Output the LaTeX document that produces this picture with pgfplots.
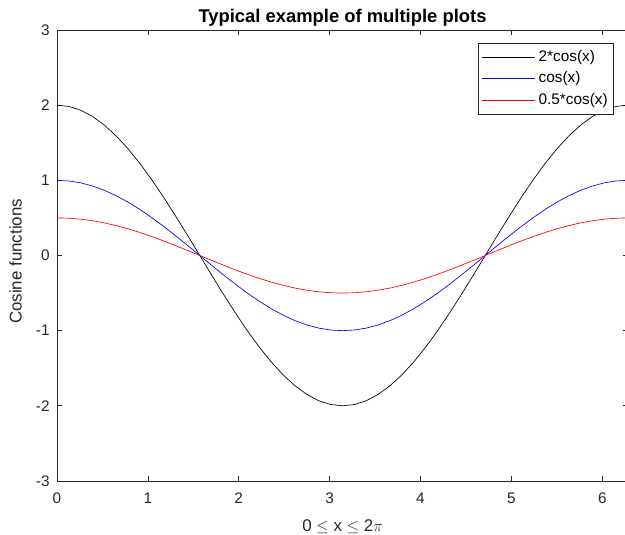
\documentclass[border=0pt]{standalone}
\usepackage{fontspec}
\setmainfont{Liberation Sans}
\usepackage{pgfplots}
\pgfplotsset{compat=1.18}

\pgfplotstableread{
x       a         b         c
0.0000  2.00000   1.00000   0.50000
0.1309  1.98289   0.99144   0.49572
0.2618  1.93185   0.96593   0.48296
0.3927  1.84776   0.92388   0.46194
0.5236  1.73205   0.86603   0.43301
0.6545  1.58671   0.79335   0.39668
0.7854  1.41421   0.70711   0.35355
0.9163  1.21752   0.60876   0.30438
1.0472  1.00000   0.50000   0.25000
1.1781  0.76537   0.38268   0.19134
1.3090  0.51764   0.25882   0.12941
1.4399  0.26105   0.13053   0.06526
1.5708  0.00000   0.00000   0.00000
1.7017 -0.26105  -0.13053  -0.06526
1.8326 -0.51764  -0.25882  -0.12941
1.9635 -0.76537  -0.38268  -0.19134
2.0944 -1.00000  -0.50000  -0.25000
2.2253 -1.21752  -0.60876  -0.30438
2.3562 -1.41421  -0.70711  -0.35355
2.4871 -1.58671  -0.79335  -0.39668
2.6180 -1.73205  -0.86603  -0.43301
2.7489 -1.84776  -0.92388  -0.46194
2.8798 -1.93185  -0.96593  -0.48296
3.0107 -1.98289  -0.99144  -0.49572
3.1416 -2.00000  -1.00000  -0.50000
3.2725 -1.98289  -0.99144  -0.49572
3.4034 -1.93185  -0.96593  -0.48296
3.5343 -1.84776  -0.92388  -0.46194
3.6652 -1.73205  -0.86603  -0.43301
3.7961 -1.58671  -0.79335  -0.39668
3.9270 -1.41421  -0.70711  -0.35355
4.0579 -1.21752  -0.60876  -0.30438
4.1888 -1.00000  -0.50000  -0.25000
4.3197 -0.76537  -0.38268  -0.19134
4.4506 -0.51764  -0.25882  -0.12941
4.5815 -0.26105  -0.13053  -0.06526
4.7124  0.00000   0.00000   0.00000
4.8433  0.26105   0.13053   0.06526
4.9742  0.51764   0.25882   0.12941
5.1051  0.76537   0.38268   0.19134
5.2360  1.00000   0.50000   0.25000
5.3669  1.21752   0.60876   0.30438
5.4978  1.41421   0.70711   0.35355
5.6287  1.58671   0.79335   0.39668
5.7596  1.73205   0.86603   0.43301
5.8905  1.84776   0.92388   0.46194
6.0214  1.93185   0.96593   0.48296
6.1523  1.98289   0.99144   0.49572
6.2832  2.00000   1.00000   0.50000
}\cosdata

\definecolor{axgray}{RGB}{38,38,38}

\begin{document}
\begin{tikzpicture}
\begin{axis}[
    scale only axis,
    width=428.25pt,
    height=338.25pt,
    xmin=0, xmax=6.2832,
    ymin=-3, ymax=3,
    xtick={0,1,2,3,4,5,6},
    ytick={-3,-2,-1,0,1,2,3},
    tick align=inside,
    major tick length=3.75pt,
    axis line style={axgray, line width=0.5pt},
    every tick/.style={axgray, line width=0.5pt},
    tick label style={font=\fontsize{11.5}{13}\selectfont, text=axgray},
    xticklabel style={yshift=-5.5pt},
    yticklabel style={xshift=-2pt},
    /pgf/number format/assume math mode=true,
    every axis title shift=0pt,
    title={\bfseries Typical example of multiple plots},
    title style={font=\fontsize{13.8}{15}\selectfont,
        at={(axis description cs:0.5,1.0177)}, anchor=base},
    xlabel={0 $\leq$ x $\leq$ 2$\pi$},
    ylabel={Cosine functions},
    label style={font=\fontsize{12.7}{14}\selectfont, text=axgray},
    xlabel style={at={(axis description cs:0.5,-0.1109)}, anchor=base},
    ylabel style={at={(axis description cs:-0.062,0.487)}, anchor=base},
    legend style={at={(axis description cs:0.9755,0.9712)}, anchor=north east,
        draw=axgray, line width=0.5pt,
        font=\fontsize{11.5}{13}\selectfont, row sep=0pt,
        inner xsep=2pt, inner ysep=2.6pt,
        nodes={text height=8.5pt, text depth=2.5pt, inner sep=2.5pt},
        legend cell align=left},
    legend image code/.code={\draw[mark repeat=2,mark phase=2,#1]
        plot coordinates {(-2pt,0pt) (18pt,0pt) (38pt,0pt)};},
]
\addplot[black, line width=0.5pt, mark=none] table[x=x, y=a] {\cosdata};
\addplot[blue, line width=0.5pt, mark=none] table[x=x, y=b] {\cosdata};
\addplot[red, line width=0.5pt, mark=none] table[x=x, y=c] {\cosdata};
\legend{2*cos(x), cos(x), 0.5*cos(x)}
\end{axis}
\pgfresetboundingbox
\path[use as bounding box]
    ([shift={(-42.75pt,-40.5pt)}]current axis.south west) rectangle
    ([shift={(-2.25pt,22.5pt)}]current axis.north east);
\end{tikzpicture}
\end{document}
